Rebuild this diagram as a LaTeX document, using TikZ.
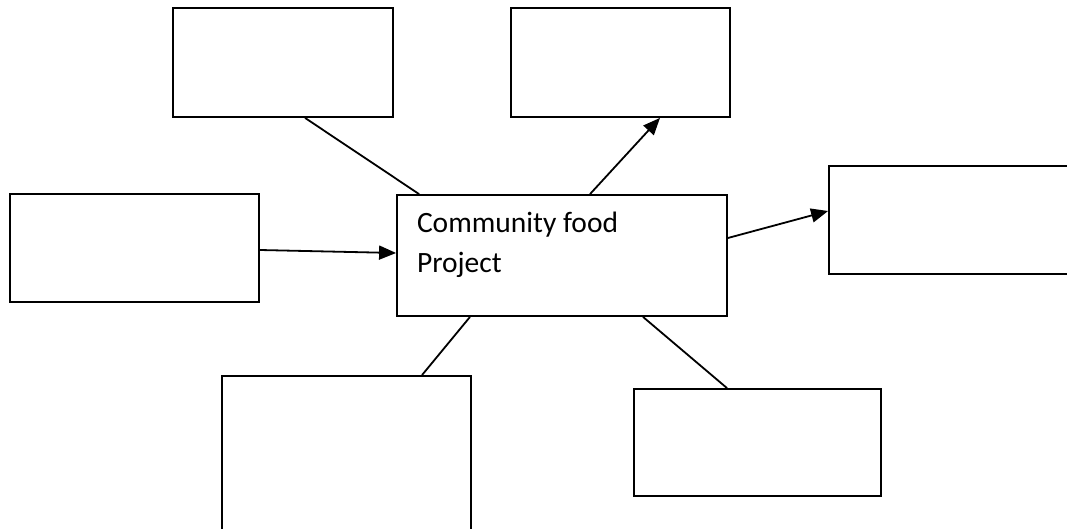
\documentclass[tikz,border=0pt]{standalone}
\usepackage{fontspec}
\setmainfont{Carlito}
\usetikzlibrary{arrows.meta}
\tikzset{>={Triangle[length=17pt, width=14pt]}, % solid arrow heads
box/.style={draw, rectangle, inner sep=0pt}, % the empty boxes round the project
}

\begin{document}
\begin{tikzpicture}[x=1pt, y=-1pt, line width=1.8pt]
\useasboundingbox (0,0) rectangle (1067,529);
\clip (0,0) rectangle (1067,529);
\node[box, minimum width=330pt, minimum height=121pt, inner xsep=20pt, inner ysep=17.5pt] (ctr) at (562,255.5)
  {\fontsize{29.5}{40}\selectfont\parbox[c][86pt][t]{290pt}{Community food\\Project}};
\node[box, minimum width=220pt, minimum height=109pt] (bNW) at (283,62.5) {};
\node[box, minimum width=219pt, minimum height=109pt] (bNE) at (620.5,62.5) {};
\node[box, minimum width=249pt, minimum height=108pt] (bW) at (134.5,248) {};
\node[box, minimum width=261pt, minimum height=108pt] (bE) at (959.5,220) {};

\node[box, minimum width=249pt, minimum height=184pt] (bSW) at (346.5,468) {};
\node[box, minimum width=247pt, minimum height=107pt] (bSE) at (757.5,442.5) {};


\draw
([xshift=22pt]bNW.south) edge ([xshift=23pt]ctr.north west)
([xshift=28pt]ctr.north) edge[->] ([xshift=39.5pt]bNE.south)
([yshift=-2pt]bW.east) edge[->] ([yshift=2.5pt]ctr.west)
([yshift=17.5pt]ctr.east) edge[->] ([yshift=9pt]bE.west)
([xshift=-92pt]ctr.south) edge ([xshift=75.5pt]bSW.north)
([xshift=81pt]ctr.south) edge ([xshift=-30.5pt]bSE.north);

\end{tikzpicture}
\end{document}
